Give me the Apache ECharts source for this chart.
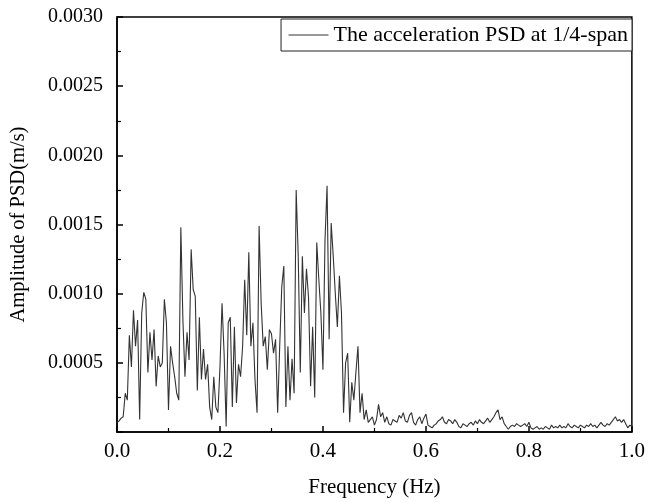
<!DOCTYPE html>
<html>
<head>
<meta charset="utf-8">
<script src="https://cdn.jsdelivr.net/npm/echarts@6/dist/echarts.min.js"></script>
<style>html,body{margin:0;padding:0;background:#fff}#c{width:648px;height:503px}</style>
</head>
<body>
<div id="c"></div>
<script>
// Frequency step (Hz) between samples, starting at 0 Hz
const freqStep = 0.004;
// PSD amplitude, in units of 1e-4 (m/s)
const psdE4 = [
0.7,0.8,1.0,1.1,2.8,2.3,7.0,4.7,8.8,6.2,
8.1,0.9,8.6,10.1,9.6,4.3,7.2,5.2,7.4,3.3,
5.5,4.7,5.0,9.6,7.9,1.6,6.2,5.0,4.0,2.8,
2.3,14.8,8.1,4.0,7.2,5.2,13.2,10.3,9.8,3.0,
8.3,3.8,6.0,3.8,4.9,1.8,0.9,4.0,1.8,1.4,
4.7,9.3,5.7,0.4,7.9,8.3,1.8,7.6,2.1,4.9,
4.0,6.2,11.0,7.0,13.0,6.2,7.9,3.8,1.4,14.9,
9.3,6.2,6.9,4.5,7.4,7.1,5.7,6.7,1.4,6.2,
10.5,12.0,1.8,6.2,2.3,5.3,2.8,17.5,12.7,4.3,
12.7,8.6,11.8,9.7,3.3,7.6,2.5,13.7,11.0,8.6,
4.5,13.9,17.8,6.7,15.1,12.7,10.0,7.6,11.3,8.6,
1.4,5.0,5.7,0.7,3.6,2.3,4.3,6.2,1.4,2.8,
0.9,1.6,0.7,0.9,1.1,0.5,0.9,2.0,1.1,1.4,
0.7,1.1,0.6,0.5,0.9,0.8,0.7,1.2,1.0,1.4,
0.8,0.7,1.2,1.4,0.7,0.5,0.9,1.1,0.6,1.0,
1.3,0.5,0.4,0.3,0.5,0.6,0.8,0.9,1.1,0.7,
0.6,0.9,0.8,0.6,0.9,0.7,0.4,0.3,0.6,0.5,
0.4,0.6,0.7,0.5,0.8,0.6,0.9,0.7,0.6,0.8,
1.0,0.7,0.9,1.1,1.4,1.6,0.9,1.1,0.6,0.4,
0.2,0.4,0.5,0.4,0.6,0.5,0.4,0.5,0.6,0.4,
0.7,0.3,0.2,0.3,0.4,0.2,0.3,0.2,0.4,0.3,
0.2,0.5,0.3,0.4,0.3,0.5,0.3,0.4,0.3,0.6,
0.4,0.3,0.5,0.4,0.3,0.5,0.4,0.3,0.5,0.4,
0.6,0.4,0.5,0.3,0.5,0.7,0.5,0.4,0.6,0.5,
0.7,0.9,1.1,0.8,0.9,0.7,0.9,0.6,0.3,0.5,
0.4
];
const xTicks = [0.0, 0.2, 0.4, 0.6, 0.8, 1.0];
const yTicks = [0.0005, 0.0010, 0.0015, 0.0020, 0.0025, 0.0030];
const seriesName = 'The acceleration PSD at 1/4-span';

const data = psdE4.map((v, i) => [+(i * freqStep).toFixed(4), v * 1e-4]);
const FONT = 'Liberation Serif';
const chart = echarts.init(document.getElementById('c'));
chart.setOption({
  animation: false,
  backgroundColor: '#fff',
  textStyle: { fontFamily: FONT, color: '#000' },
  grid: { left: 116, right: 16, top: 17, bottom: 71, show: true, borderColor: '#000', borderWidth: 1.5 },
  legend: {
    right: 16, top: 19,
    data: [seriesName],
    backgroundColor: '#fff',
    borderColor: '#222', borderWidth: 1,
    padding: [5, 4, 5, 7],
    itemWidth: 40, itemHeight: 10, itemGap: 8,
    itemStyle: { color: 'rgba(0,0,0,0)', borderWidth: 0 },
    lineStyle: { color: '#333', width: 1 },
    textStyle: { fontFamily: FONT, fontSize: 22, color: '#000' }
  },
  xAxis: {
    type: 'value', min: 0, max: 1, interval: 0.2,
    name: 'Frequency (Hz)', nameLocation: 'middle', nameGap: 45,
    nameTextStyle: { fontFamily: FONT, fontSize: 21, color: '#000' },
    axisLine: { show: true, lineStyle: { color: '#000', width: 1.5 } },
    axisTick: { show: true, inside: true, length: 6, lineStyle: { color: '#000', width: 1.5 } },
    minorTick: { show: true, splitNumber: 2, length: 4, lineStyle: { color: '#000', width: 1.2 } },
    splitLine: { show: false },
    axisLabel: { fontFamily: FONT, fontSize: 21, color: '#000', margin: 9,
      formatter: v => xTicks.some(t => Math.abs(t - v) < 1e-9) ? v.toFixed(1) : '' }
  },
  yAxis: {
    type: 'value', min: 0, max: 0.003, interval: 0.0005,
    name: 'Amplitude of PSD(m/s)', nameLocation: 'middle', nameGap: 88,
    nameTextStyle: { fontFamily: FONT, fontSize: 20.5, color: '#000' },
    axisLine: { show: true, lineStyle: { color: '#000', width: 1.5 } },
    axisTick: { show: true, inside: true, length: 6, lineStyle: { color: '#000', width: 1.5 } },
    minorTick: { show: true, splitNumber: 2, length: 4, lineStyle: { color: '#000', width: 1.2 } },
    splitLine: { show: false },
    axisLabel: { fontFamily: FONT, fontSize: 20, color: '#000', margin: 14,
      formatter: v => yTicks.some(t => Math.abs(t - v) < 1e-9) ? v.toFixed(4) : '' }
  },
  series: [{
    name: seriesName, type: 'line', data: data,
    symbol: 'none', showSymbol: false,
    lineStyle: { color: '#333', width: 1.1 },
    itemStyle: { color: '#333' }
  }]
});
</script>
</body>
</html>
